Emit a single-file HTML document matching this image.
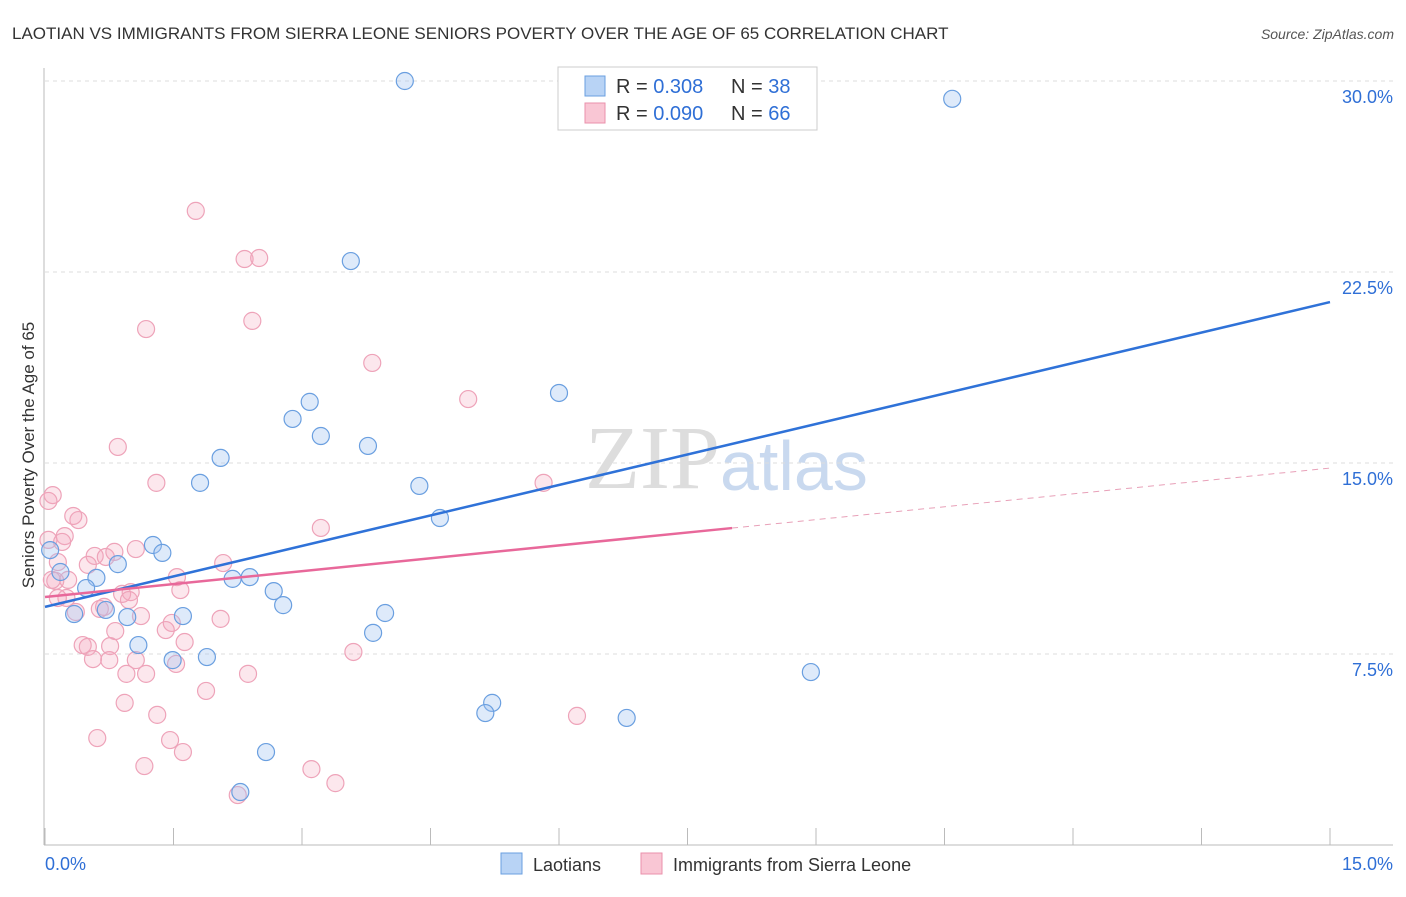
<!DOCTYPE html>
<html><head><meta charset="utf-8"><style>
body{margin:0;background:#fff;font-family:"Liberation Sans",sans-serif}
</style></head><body>
<svg id="c" width="1406" height="892" xmlns="http://www.w3.org/2000/svg">
<text x="12" y="39" font-size="17" fill="#333">LAOTIAN VS IMMIGRANTS FROM SIERRA LEONE SENIORS POVERTY OVER THE AGE OF 65 CORRELATION CHART</text>
<text x="1394" y="39" font-size="14" font-style="italic" fill="#555" text-anchor="end">Source: ZipAtlas.com</text>
<text x="720" y="488" font-size="90" font-family="Liberation Serif,serif" fill="#ddd" text-anchor="end">ZIP</text>
<text x="720" y="490" font-size="70" fill="#c9d9ef">atlas</text>
<text transform="translate(34,455) rotate(-90)" font-size="17" fill="#333" text-anchor="middle">Seniors Poverty Over the Age of 65</text>
<g id="grid"></g><g id="pts"></g><g id="lines"></g>
<g>
<rect x="558" y="67" width="259" height="63" fill="#fff" stroke="#ccc"/>
<rect x="585" y="76" width="20" height="20" fill="#b8d3f5" stroke="#6a9fe0"/>
<rect x="585" y="103" width="20" height="20" fill="#f9c6d4" stroke="#ea90ab"/>
<text x="616" y="93" font-size="20" fill="#333">R = <tspan fill="#2f6fd6">0.308</tspan><tspan x="731">N = </tspan><tspan fill="#2f6fd6">38</tspan></text>
<text x="616" y="120" font-size="20" fill="#333">R = <tspan fill="#2f6fd6">0.090</tspan><tspan x="731">N = </tspan><tspan fill="#2f6fd6">66</tspan></text>
</g>
<g>
<rect x="501" y="853" width="21" height="21" fill="#b8d3f5" stroke="#6a9fe0"/>
<text x="533" y="871" font-size="18" fill="#333">Laotians</text>
<rect x="641" y="853" width="21" height="21" fill="#f9c6d4" stroke="#ea90ab"/>
<text x="673" y="871" font-size="18" fill="#333">Immigrants from Sierra Leone</text>
</g>
</svg>
<script>
const yTicks=[7.5,15,22.5,30];
const yTickLabels=["7.5%","15.0%","22.5%","30.0%"];
const xTickLabels=["0.0%","15.0%"];
const blueX=[4.20,10.59,3.57,6.00,3.09,2.89,3.22,3.77,2.05,1.81,4.37,4.61,1.26,1.37,0.85,0.06,0.18,0.60,0.48,2.19,2.39,2.67,2.78,0.34,0.71,0.96,1.61,3.97,3.83,1.09,1.49,1.89,8.94,5.22,5.14,6.79,2.58,2.28];
const blueY=[30.0,29.3,22.93,17.75,17.40,16.73,16.06,15.67,15.20,14.22,14.10,12.84,11.78,11.47,11.03,11.58,10.72,10.49,10.09,10.45,10.52,9.97,9.42,9.07,9.23,8.95,8.99,9.11,8.33,7.85,7.26,7.38,6.79,5.58,5.18,4.99,3.65,2.08];
const pinkX=[1.76,2.33,2.50,1.18,2.42,3.82,4.94,0.85,1.30,5.82,0.09,0.04,0.39,0.33,3.22,0.23,0.04,0.15,0.58,0.71,0.81,1.06,2.08,0.50,0.12,0.27,1.54,0.25,0.15,1.58,0.90,1.00,0.98,0.64,0.69,1.12,0.36,1.48,2.05,1.41,0.82,0.44,0.50,0.76,1.63,0.56,0.75,1.06,1.53,3.60,0.95,1.18,2.37,1.88,0.93,1.31,6.21,0.61,1.46,1.61,1.16,3.11,3.39,2.25,0.08,0.20];
const pinkY=[24.90,23.01,23.05,20.26,20.58,18.93,17.51,15.63,14.22,14.22,13.74,13.51,12.76,12.92,12.45,12.13,11.98,11.11,11.35,11.31,11.51,11.62,11.07,11.00,10.37,10.41,10.52,9.70,9.70,10.01,9.86,9.93,9.62,9.27,9.35,8.99,9.15,8.72,8.88,8.44,8.40,7.85,7.78,7.81,7.97,7.30,7.26,7.26,7.11,7.58,6.72,6.72,6.72,6.05,5.58,5.11,5.07,4.20,4.12,3.65,3.10,2.98,2.43,1.96,10.41,11.9];
const blueTrend=[9.35,21.32];
const pinkTrend=[9.74,14.80];
const pinkSolidEnd=8.02;
const X=v=>45+v/15*1285, Y=v=>845-v/30*764;
const NS="http://www.w3.org/2000/svg";
function mk(t,a,p){const e=document.createElementNS(NS,t);for(const k in a)e.setAttribute(k,a[k]);p.appendChild(e);return e;}
const g=document.getElementById('grid');
yTicks.forEach((t,i)=>{
 const l=mk('line',{x1:45,x2:1393,y1:Y(t),y2:Y(t),stroke:'#ddd','stroke-dasharray':'4,4'},g);
 
 
 const tx=mk('text',{x:1393,y:Y(t)+22,'font-size':18,fill:'#2f6fd6','text-anchor':'end'},g);tx.textContent=yTickLabels[i];
 
 
});
mk('line',{x1:44,x2:44,y1:68,y2:845,stroke:'#bbb'},g);
mk('line',{x1:44,x2:1393,y1:845,y2:845,stroke:'#bbb'},g);
for(let i=0;i<=10;i++){mk('line',{x1:X(i*1.5),x2:X(i*1.5),y1:828,y2:845,stroke:'#bbb'},g);}
const xl0=mk('text',{x:45,y:870,'font-size':18,fill:'#2f6fd6'},g);xl0.textContent=xTickLabels[0];


const xl1=mk('text',{x:1393,y:870,'font-size':18,fill:'#2f6fd6','text-anchor':'end'},g);xl1.textContent=xTickLabels[1];


const p=document.getElementById('pts');
pinkX.forEach((x,i)=>{const c=mk('circle',{cx:X(x),cy:Y(pinkY[i]),r:8.5,fill:'rgba(246,170,192,0.28)',stroke:'#eea3b9','stroke-width':1.2},p);
 
 });
blueX.forEach((x,i)=>{const c=mk('circle',{cx:X(x),cy:Y(blueY[i]),r:8.5,fill:'rgba(160,196,240,0.35)',stroke:'#6a9fe0','stroke-width':1.2},p);
 
 });
const L=document.getElementById('lines');
const bl=mk('line',{x1:X(0),y1:Y(blueTrend[0]),x2:X(15),y2:Y(blueTrend[1]),stroke:'#2f72d8','stroke-width':2.5},L);


const pe=pinkTrend[0]+(pinkTrend[1]-pinkTrend[0])*pinkSolidEnd/15;
const pl=mk('line',{x1:X(0),y1:Y(pinkTrend[0]),x2:X(pinkSolidEnd),y2:Y(pe),stroke:'#e8689a','stroke-width':2.5},L);


const pd=mk('line',{x1:X(pinkSolidEnd),y1:Y(pe),x2:X(15),y2:Y(pinkTrend[1]),stroke:'#e8a0b8','stroke-width':1,'stroke-dasharray':'6,5'},L);


</script>
</body></html>
